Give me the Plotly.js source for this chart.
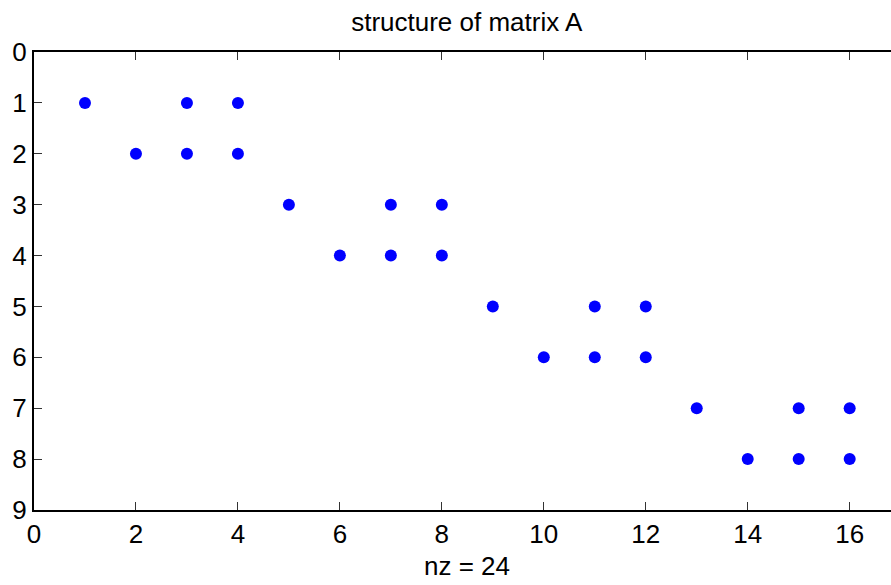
<!DOCTYPE html>
<html>
<head>
<meta charset="utf-8">
<script src="https://cdn.plot.ly/plotly-3.0.1.min.js"></script>
<style>html,body{margin:0;padding:0;background:#fff;}#chart{width:891px;height:585px;}</style>
</head>
<body>
<div id="chart"></div>
<script>
const cols = [1,3,4,2,3,4,5,7,8,6,7,8,9,11,12,10,11,12,13,15,16,14,15,16];
const rows = [1,1,1,2,2,2,3,3,3,4,4,4,5,5,5,6,6,6,7,7,7,8,8,8];
const xTicks = [0,2,4,6,8,10,12,14,16];
const yTicks = [0,1,2,3,4,5,6,7,8,9];
const titleText = 'structure of matrix A';
const xLabel = 'nz = ' + cols.length;

const fam = 'Liberation Sans, Arial, sans-serif';
const font = {family: fam, size: 26, color: '#000'};
const tfont = {family: fam, size: 26, color: '#000'};
const trace = {
  x: cols, y: rows, type: 'scatter', mode: 'markers',
  marker: {color: '#0000ff', size: 12, line: {width: 0}},
  hoverinfo: 'x+y'
};
const layout = {
  width: 891, height: 585,
  margin: {l: 34, r: 0, t: 52, b: 75},
  paper_bgcolor: '#fff', plot_bgcolor: '#fff',
  showlegend: false,
  font: font,
  title: {text: titleText, font: tfont, x: 0.505, xref: 'paper', xanchor: 'center', y: 0.962, yref: 'container', yanchor: 'middle'},
  xaxis: {
    range: [0, 857/50.98], tickvals: xTicks, ticktext: xTicks.map(String),
    showgrid: false, zeroline: false, showline: true, linecolor: '#000', linewidth: 2,
    mirror: 'ticks', ticks: 'inside', ticklen: 8, tickwidth: 1, tickcolor: '#333',
    tickfont: font
  },
  yaxis: {
    range: [9, 0], tickvals: yTicks, ticktext: yTicks.map(String),
    showgrid: false, zeroline: false, showline: true, linecolor: '#000', linewidth: 2,
    mirror: false, ticks: 'inside', ticklen: 8, tickwidth: 1, tickcolor: '#333',
    tickfont: font
  },
  annotations: [{
    text: xLabel, font: font, showarrow: false,
    xref: 'paper', yref: 'paper', x: 0.505, y: -(566 - 510) / 458,
    xanchor: 'center', yanchor: 'middle'
  }]
};
Plotly.newPlot('chart', [trace], layout, {displayModeBar: false, staticPlot: true});
</script>
</body>
</html>
